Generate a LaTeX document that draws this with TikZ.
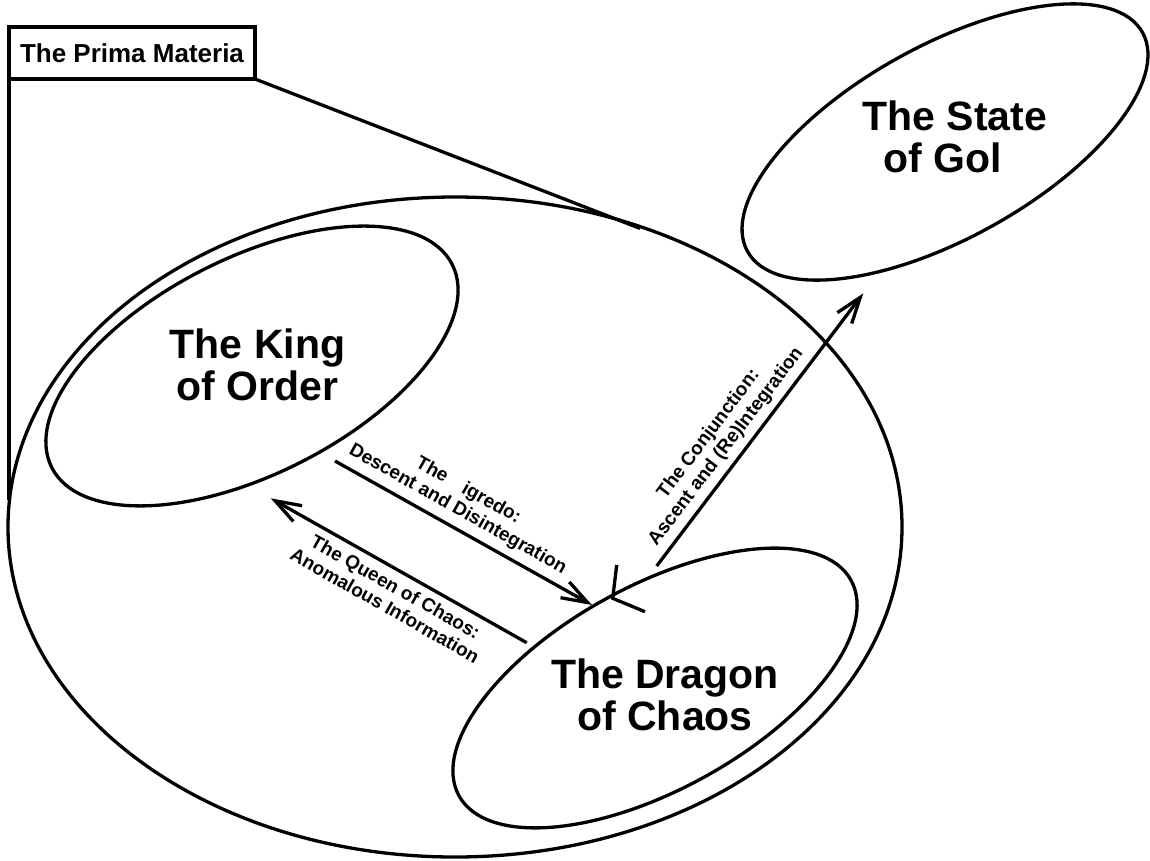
\documentclass[tikz,border=0pt]{standalone}
\usepackage{fontspec}
\setmainfont{Liberation Sans}
\usetikzlibrary{arrows.meta}

\begin{document}
\begin{tikzpicture}[x=1pt,y=-1pt,
  ring/.style={line width=3.3pt},
  title/.style={font=\bfseries\fontsize{41}{42}\selectfont,align=center,inner sep=0pt},
  tag/.style={font=\bfseries\fontsize{19}{21.5}\selectfont,align=center,inner sep=0pt},
  flow/.style={line width=3.3pt},
  >={Straight Barb[length=26pt,width=18pt]}]
\useasboundingbox (0,0) rectangle (1150,860);
% ---- centres of the ellipses
\coordinate (whole)   at (455,527);
\coordinate (kingc)   at (252,366);
\coordinate (dragonc) at (655,688);
\coordinate (goldc)   at (945,142);
% ---- outer ellipse and the three inner ones
\draw[ring] (whole) ellipse [x radius=447pt,y radius=330pt];
\draw[ring,rotate around={26.9:(kingc)}] (kingc) ellipse [x radius=224.5pt,y radius=107.9pt];
\draw[ring,rotate around={28.8:(dragonc)}] (dragonc) ellipse [x radius=223.7pt,y radius=101.8pt];
\draw[ring,rotate around={29:(goldc)}] (goldc) ellipse [x radius=225.8pt,y radius=96.3pt];
% ---- names in the ellipses
\node[title] (king)   at (257.5,364.7) {The King\\of Order};
\node[title] (dragon) at (665,694.7)   {The Dragon\\of Chaos};
\node[title] (gold)   at (955,137.2)   {The State\\of Gol\phantom{d}};
% ---- label box with its wedge
\node[draw,line width=3.3pt,outer sep=0pt,inner sep=0pt,minimum width=246pt,minimum height=52pt,
  font=\bfseries\fontsize{26}{28}\selectfont] (prima) at (132,53) {The Prima Materia};
\coordinate (wedgeL) at (9,500);
\coordinate (wedgeR) at (640,228.4);
\draw[ring] (prima.south west) -- (wedgeL);
\draw[ring] (prima.south east) -- (wedgeR);
% ---- the three arrows
\coordinate (nigFrom)   at (335,461);
\coordinate (nigTo)     at (592,605);
\coordinate (queenTo)   at (270.7,498.3);
\coordinate (queenFrom) at (526.7,642.7);
\coordinate (conFrom)   at (656.7,566);
\coordinate (conTo)     at (863.3,293.3);
\draw[flow,->] (nigFrom) -- node[tag,sloped,above=7pt,pos=.444] (nigredo)
  {The \phantom{N}igredo:\\Descent and Disintegration} (nigTo);
\draw[flow,<-] (queenTo) -- node[tag,sloped,below=7pt,pos=.518] (queen)
  {The Queen of Chaos:\\Anomalous Information} (queenFrom);
\draw[flow,->] (conFrom) -- node[tag,sloped,above=6pt,pos=.40] (conjunction)
  {The Conjunction:\\Ascent and (Re)Integration} (conTo);
% ---- small mark on the dragon
\coordinate (ytop)  at (616.7,565);
\coordinate (yjoin) at (612.7,598.3);
\coordinate (yfoot) at (645,611.7);
\draw[ring] (ytop) -- (yjoin) -- (yfoot);
\end{tikzpicture}
\end{document}
